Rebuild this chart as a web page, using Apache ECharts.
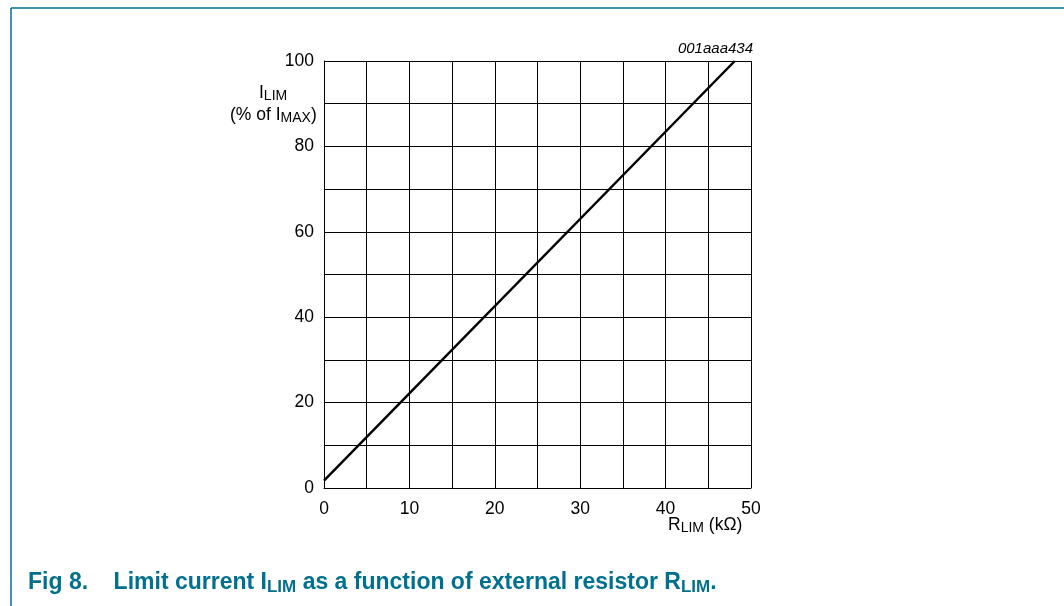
<!DOCTYPE html>
<html>
<head>
<meta charset="utf-8">
<script src="https://cdn.jsdelivr.net/npm/echarts@6/dist/echarts.min.js"></script>
<style>
    html, body { margin: 0; padding: 0; background: #fff; }
    #chart { width: 1064px; height: 606px; }
</style>
</head>
<body>
<div id="chart"></div>
<script>
    // straight line from (0, 1.7) to (48.1, 100)
    var resistance = [0, 48.1];
    var limitCurrent = [1.7, 100];
    var xTicks = [0, 10, 20, 30, 40, 50];
    var yTicks = [0, 20, 40, 60, 80, 100];

    var frameColor = '#00708f';
    var font = '"Liberation Sans", Arial, sans-serif';
    var fs = 17.5;

    var chart = echarts.init(document.getElementById('chart'));

    var nameRich = {
        b: { fontFamily: font, fontSize: fs, fill: '#000' },
        s: { fontFamily: font, fontSize: 14, fill: '#000', padding: [6, 0, 0, 0] }
    };

    chart.setOption({
        animation: false,
        grid: {
            left: 324,
            top: 61,
            width: 427,
            height: 427,
            containLabel: false
        },
        xAxis: {
            type: 'value',
            min: 0,
            max: 50,
            interval: 5,
            axisLine: { show: true, onZero: false, lineStyle: { color: '#000', width: 1 } },
            axisTick: { show: false },
            splitLine: { show: true, lineStyle: { color: '#000', width: 1 } },
            axisLabel: {
                margin: 12,
                color: '#000',
                fontFamily: font,
                fontSize: fs,
                formatter: function (v) {
                    return xTicks.indexOf(v) >= 0 ? String(v) : '';
                }
            }
        },
        yAxis: {
            type: 'value',
            min: 0,
            max: 100,
            interval: 10,
            axisLine: { show: true, onZero: false, lineStyle: { color: '#000', width: 1 } },
            axisTick: { show: false },
            splitLine: { show: true, lineStyle: { color: '#000', width: 1 } },
            axisLabel: {
                margin: 10,
                color: '#000',
                fontFamily: font,
                fontSize: fs,
                formatter: function (v) {
                    return yTicks.indexOf(v) >= 0 ? String(v) : '';
                }
            }
        },
        series: [
            {
                type: 'line',
                data: resistance.map(function (x, i) { return [x, limitCurrent[i]]; }),
                showSymbol: false,
                lineStyle: { color: '#000', width: 2.5 }
            }
        ],
        graphic: [
            // frame
            { type: 'line', shape: { x1: 11, y1: 8, x2: 1064, y2: 8 }, style: { stroke: frameColor, lineWidth: 1.5 } },
            { type: 'line', shape: { x1: 11, y1: 8, x2: 11, y2: 606 }, style: { stroke: frameColor, lineWidth: 1.5 } },
            // y axis name
            { type: 'text', left: 259, top: 84, style: { text: '{b|I}{s|LIM}', rich: nameRich } },
            { type: 'text', left: 230, top: 106, style: { text: '{b|(% of I}{s|MAX}{b|)}', rich: nameRich } },
            // x axis name
            { type: 'text', left: 668, top: 516, style: { text: '{b|R}{s|LIM}{b| (kΩ)}', rich: nameRich } },
            // figure id
            {
                type: 'text', right: 311, top: 41,
                style: { text: '001aaa434', fontFamily: font, fontSize: 15, fontStyle: 'italic', fill: '#000' }
            },
            // caption
            {
                type: 'text', left: 28, top: 571,
                style: {
                    text: '{b|Fig 8.    Limit current I}{s|LIM}{b| as a function of external resistor R}{s|LIM}{b|.}',
                    rich: {
                        b: { fontFamily: font, fontSize: 23, fontWeight: 'bold', fill: frameColor },
                        s: { fontFamily: font, fontSize: 17, fontWeight: 'bold', fill: frameColor, padding: [9, 0, 0, 0] }
                    }
                }
            }
        ]
    });
</script>
</body>
</html>
